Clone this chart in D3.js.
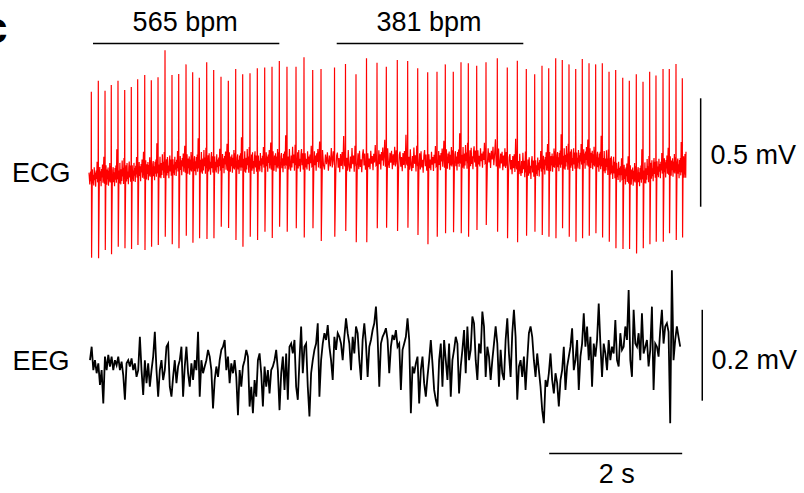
<!DOCTYPE html>
<html>
<head>
<meta charset="utf-8">
<script src="https://cdn.jsdelivr.net/npm/d3@7"></script>
<style>
  html, body { margin: 0; padding: 0; background: #fff; }
  svg { display: block; }
  text { font-family: "Liberation Sans", Arial, sans-serif; fill: #000; }
</style>
</head>
<body>
<svg id="chart" width="804" height="493"></svg>
<script>
// ---------------- DATA ----------------
// ECG beat times (s), R-peak and S-trough (µV, absolute), local baseline (µV)
const beatTime = [0.035,0.140,0.241,0.335,0.436,0.537,0.636,0.732,0.838,0.937,
  1.038,1.143,1.248,1.349,1.459,1.559,1.659,1.770,1.875,1.985,
  2.095,2.206,2.311,2.421,2.531,2.642,2.752,2.862,2.977,3.113,
  3.233,3.364,3.489,3.692,3.857,4.015,4.173,4.331,4.471,4.636,
  4.792,4.943,5.093,5.233,5.358,5.478,5.594,5.704,5.830,5.970,
  6.140,6.290,6.441,6.576,6.702,6.812,6.913,7.018,7.117,7.218,
  7.319,7.418,7.519,7.619,7.719,7.820,7.920,8.026,8.125,8.230,
  8.331,8.431,8.526,8.632,8.726,8.827,8.922];
const rPeak = [362,413,367,394,413,370,384,420,440,415,
  429,554,440,444,489,452,427,499,463,432,
  413,468,443,448,471,474,478,505,478,478,
  522,463,468,474,491,443,517,497,478,509,
  505,471,452,455,489,455,499,494,483,499,
  517,474,506,468,443,483,471,517,509,489,
  468,514,494,489,494,455,463,427,413,443,
  409,455,437,468,468,491,425];
const sTrough = [-406,-409,-370,-390,-355,-362,-366,-347,-370,-355,
  -347,-309,-344,-362,-304,-337,-316,-319,-316,-263,
  -269,-324,-355,-309,-324,-286,-315,-263,-286,-270,
  -313,-270,-329,-309,-282,-335,-335,-270,-267,-282,
  -267,-301,-344,-309,-293,-288,-293,-309,-278,-255,
  -286,-316,-335,-304,-286,-301,-309,-316,-270,-309,
  -332,-316,-304,-293,-313,-332,-362,-366,-366,-386,
  -362,-344,-332,-332,-293,-324,-313];
const ecgBase = [-32,-32,-28,-28,-23,-19,-14,-9,-5,0,
  5,9,14,19,23,23,28,28,28,28,
  32,32,32,32,32,37,37,37,42,42,
  42,42,42,42,37,37,42,46,51,46,
  42,37,37,42,46,46,51,51,56,56,
  51,37,23,9,9,19,32,42,46,46,
  46,51,51,46,37,19,0,-19,-28,-28,
  -23,-9,5,9,14,14,9];
// inter-beat ripple shapes (µV relative to baseline)
const ripple0 = [35,-30,10,-40,45,-15,20,-45,30,-10,70,-25];
const ripple1 = [-30,45,-20,25,-45,35,-5,55,-30,20,90,-35];
const ripple2 = [50,-20,-40,30,-15,40,-45,25,-25,60,-30,45];
const ripple3 = [-45,25,40,-30,15,-50,35,-20,45,-35,120,-15];
const ripple4 = [20,-40,55,-20,-45,25,-30,65,-10,30,-45,75];
const ripple5 = [-15,40,-35,50,-25,10,-50,30,55,-20,35,-40];
const ripples = [ripple0, ripple1, ripple2, ripple3, ripple4, ripple5];
const ecgEnd = 8.985;

// EEG samples (µV), every 0.025 s starting at 0.015 s
const eegStart = 0.015, eegDt = 0.025;
const eeg = [
  4,34,-18,4,-25,-3,-51,-18,-92,12,
  -18,16,-10,12,-18,4,-7,12,-18,1,
  -29,-84,-3,4,-10,8,-18,-3,-33,-18,
  56,-18,-73,4,-47,-3,-55,-18,12,67,
  -18,-77,-18,4,-40,-18,34,41,-55,-77,
  -33,4,-47,-10,4,34,-77,-10,34,-25,
  -55,-3,-40,4,-18,67,-77,4,-25,-10,
  4,27,12,-18,-103,-40,-10,-33,4,27,
  34,49,-18,12,-47,-3,-25,4,-33,-118,
  -18,-55,-10,4,27,12,-99,-55,-114,-40,
  -77,4,19,-25,-99,-10,-55,-18,
  -70,-18,-10,4,27,-18,-107,-25,12,-62,
  19,-84,34,41,19,49,-55,-84,4,79,
  -25,34,41,-55,-121,-25,4,27,41,86,
  -77,4,41,64,49,82,34,4,-40,56,
  27,64,56,41,4,56,97,64,41,-18,
  56,19,79,64,4,-40,49,86,41,-33,
  34,49,71,86,123,56,-55,41,56,64,
  75,49,-25,34,60,49,71,34,41,-62,
  27,41,56,97,49,-114,-10,-25,-3,12,
  -92,-18,12,-47,-77,-33,4,49,-3,-62,
  -84,-99,4,41,-55,49,4,-40,41,-77,
  4,27,56,41,-70,-10,27,71,-25,79,
  4,27,101,86,4,-40,41,19,112,79,
  -33,34,12,-40,4,41,79,41,-55,27,
  -25,-40,49,97,19,-33,64,116,56,-84,
  -10,4,-33,12,-62,4,
  64,79,56,4,-33,19,-18,-55,-107,-136,
  -40,-55,-25,19,-40,-70,-25,-47,-99,-40,
  -18,34,-62,-10,12,34,75,-18,4,49,
  -62,12,41,108,34,79,4,56,-55,41,
  12,49,130,41,-33,41,19,-18,49,4,
  34,19,93,4,-10,64,27,34,79,49,
  160,4,-33,116,41,34,64,4,108,19,
  34,49,-10,27,123,-62,41,34,12,71,
  116,41,79,86,67,-136,204,4,49,79,
  56,34];

// annotation data
const rateLabels = ["565 bpm", "381 bpm"];
const rateSpans = [[0.06, 2.862], [3.725, 6.531]];
const traceLabels = ["ECG", "EEG"];
const scaleLabels = ["0.5 mV", "0.2 mV", "2 s"];
const panelLabel = "c";

// ---------------- DRAWING ----------------
const svg = d3.select("#chart");
const x = d3.scaleLinear().domain([0, 9]).range([89, 687.5]);
const yE = d3.scaleLinear().domain([-500, 500]).range([278, 62]);
const yG = d3.scaleLinear().domain([-200, 200]).range([452, 272]);
const FS = 27;

// build ECG polyline
const ecgPts = [];
const b0 = ecgBase[0];
ecgPts.push([0, b0 + 20], [0.012, b0 - 35], [0.024, b0 + 25]);
for (let i = 0; i < beatTime.length; i++) {
  const t = beatTime[i];
  const tNext = i < beatTime.length - 1 ? beatTime[i + 1] : ecgEnd;
  const bNext = i < beatTime.length - 1 ? ecgBase[i + 1] : ecgBase[i];
  ecgPts.push([t - 0.003, ecgBase[i] - 20]);
  ecgPts.push([t, rPeak[i]]);
  ecgPts.push([t + 0.004, sTrough[i]]);
  const tpl = ripples[i % ripples.length];
  for (let k = 0; k < tpl.length; k++) {
    const f = (k + 1) / (tpl.length + 1);
    const tt = t + 0.008 + f * (tNext - t - 0.012);
    const b = ecgBase[i] + f * (bNext - ecgBase[i]);
    ecgPts.push([tt, b + tpl[k]]);
  }
}

const lineE = d3.line().x(d => x(d[0])).y(d => yE(d[1]));
svg.append("path")
  .attr("d", lineE(ecgPts))
  .attr("fill", "none")
  .attr("stroke", "#ff0000")
  .attr("stroke-width", 1.2)
  .attr("stroke-linejoin", "miter");

const lineG = d3.line().x((d, i) => x(eegStart + i * eegDt)).y(d => yG(d));
svg.append("path")
  .attr("d", lineG(eeg))
  .attr("fill", "none")
  .attr("stroke", "#000")
  .attr("stroke-width", 1.8);

// rate bars
rateSpans.forEach((s, i) => {
  svg.append("line")
    .attr("x1", x(s[0])).attr("x2", x(s[1]))
    .attr("y1", 43.5).attr("y2", 43.5)
    .attr("stroke", "#000").attr("stroke-width", 1.5);
  svg.append("text")
    .attr("x", (x(s[0]) + x(s[1])) / 2 - 1)
    .attr("y", 31)
    .attr("text-anchor", "middle")
    .attr("font-size", FS)
    .text(rateLabels[i]);
});

// trace labels
svg.append("text").attr("x", 12).attr("y", 182).attr("font-size", FS).text(traceLabels[0]);
svg.append("text").attr("x", 12.5).attr("y", 370).attr("font-size", FS).text(traceLabels[1]);

// vertical scale bars
const xBarE = x(9.198), xBarG = x(9.222);
svg.append("line").attr("x1", xBarE).attr("x2", xBarE)
  .attr("y1", yE(332)).attr("y2", yE(-170))
  .attr("stroke", "#000").attr("stroke-width", 1.5);
svg.append("text").attr("x", 710.5).attr("y", 163.5).attr("font-size", FS).text(scaleLabels[0]);
svg.append("line").attr("x1", xBarG).attr("x2", xBarG)
  .attr("y1", yG(116)).attr("y2", yG(-86))
  .attr("stroke", "#000").attr("stroke-width", 1.5);
svg.append("text").attr("x", 711.5).attr("y", 368.5).attr("font-size", FS).text(scaleLabels[1]);

// time scale bar
svg.append("line").attr("x1", x(6.92)).attr("x2", x(8.92))
  .attr("y1", 453.5).attr("y2", 453.5)
  .attr("stroke", "#000").attr("stroke-width", 1.5);
svg.append("text").attr("x", (x(6.92) + x(8.92)) / 2 + 1).attr("y", 482.5)
  .attr("text-anchor", "middle").attr("font-size", FS).text(scaleLabels[2]);

// panel label (cut off at left edge, as in the reference)
svg.append("text").attr("x", -17).attr("y", 43).attr("font-size", 44)
  .attr("font-weight", "bold").text(panelLabel);
</script>
</body>
</html>
